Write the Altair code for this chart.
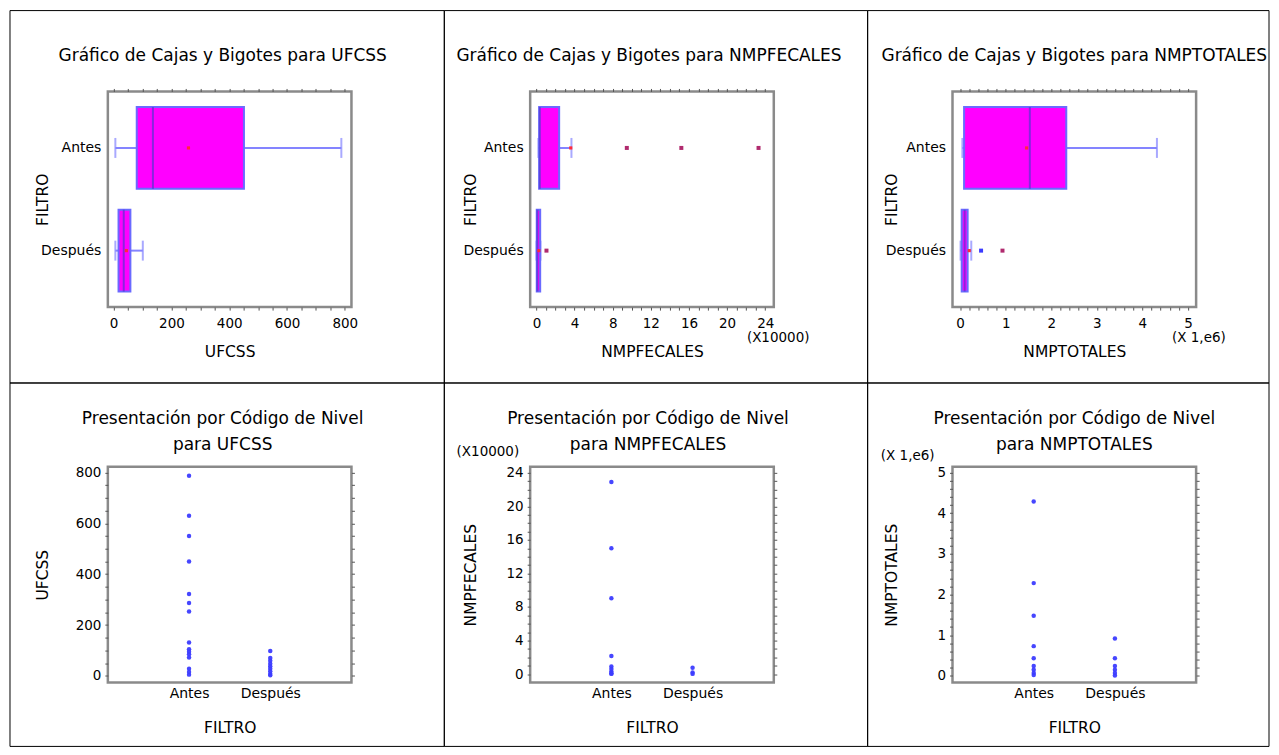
import altair as alt
import pandas as pd

FONT = "DejaVu Sans"
filtro = ["Antes", "Después"]

# ---------------- Top row: box-and-whisker summaries ----------------
ufcss_low = [6, 6]
ufcss_q1 = [80, 17]
ufcss_med = [136, 35]
ufcss_q3 = [451, 58]
ufcss_high = [788, 101]
ufcss_mean = [259, 44]

fec_low = [2000, 0]
fec_q1 = [2800, 300]
fec_med = [3500, 1000]
fec_q3 = [23800, 3900]
fec_high = [36700, 4200]
fec_mean = [36000, 2500]
fec_out_filtro = ["Antes", "Antes", "Antes", "Después"]
fec_out_value = [94800, 152000, 233000, 10500]
fec_out_kind = ["far", "far", "far", "far"]

tot_low = [50000, 10000]
tot_q1 = [87000, 35000]
tot_med = [1530000, 100000]
tot_q3 = [2330000, 165000]
tot_high = [4320000, 245000]
tot_mean = [1460000, 200000]
tot_out_filtro = ["Después", "Después"]
tot_out_value = [460000, 930000]
tot_out_kind = ["near", "far"]

# ---------------- Bottom row: individual observations ----------------
ufcss_antes = [787, 630, 550, 450, 322, 287, 253, 131, 105, 95, 85, 72, 28, 15, 5]
ufcss_despues = [98, 70, 60, 48, 38, 28, 18, 8, 3]
fec_antes = [229000, 150000, 90500, 21500, 9000, 6000, 3000, 1000, 300]
fec_despues = [7500, 2000, 300]
tot_antes = [4290000, 2280000, 1480000, 730000, 430000, 240000, 150000, 70000, 20000]
tot_despues = [920000, 430000, 240000, 150000, 70000, 10000]

# axis ticks
ufcss_ticks = list(range(0, 801, 50))
fec_ticks = list(range(0, 240001, 10000))
tot_ticks = [i * 200000 for i in range(26)]
ufcss_lbl = "datum.value % 200 === 0 ? format(datum.value, 'd') : ''"
fec_lbl = "datum.value % 40000 === 0 ? format(datum.value / 10000, 'd') : ''"
tot_lbl = "datum.value % 1000000 === 0 ? format(datum.value / 1000000, 'd') : ''"

BOX_FILL = "#ff00ff"
BOX_EDGE = "#6a6aff"
MED = "#5534d0"
WHISK = "#8484ff"
MEAN = "#ff2a3a"
OUT_NEAR = "#3b3bff"
OUT_FAR = "#b02a6e"
PT = "#3c3cff"
TICKC = "#555555"

W, H = 244, 216


def stats_df(low, q1, med, q3, high, mean):
    return pd.DataFrame({"FILTRO": filtro, "low": low, "q1": q1, "med": med,
                         "q3": q3, "high": high, "mean": mean})


def obs_df(antes, despues):
    return pd.DataFrame({"FILTRO": ["Antes"] * len(antes) + ["Después"] * len(despues),
                         "value": antes + despues})


def border(x0, x1, y0, y1):
    return alt.Chart(alt.Data(values=[{"b": 1}])).mark_rect(
        fillOpacity=0, stroke="black", strokeWidth=1
    ).encode(x=alt.value(x0), x2=alt.value(x1), y=alt.value(y0), y2=alt.value(y1))


def box_panel(title, var, stats, outl, domain, ticks, lbl, note, note_x, note_dx,
              title_x, title_dx, brd):
    xs = alt.Scale(domain=domain, nice=False, zero=False)
    yenc = alt.Y("FILTRO:N", sort=filtro,
                 scale=alt.Scale(paddingInner=0, paddingOuter=0.05),
                 axis=alt.Axis(title="FILTRO", ticks=False, domain=False, labelPadding=7,
                               titleX=title_x, labelFontSize=14))
    base = alt.Chart(stats)
    whisk = base.mark_rule(color=WHISK, strokeWidth=2).encode(
        x=alt.X("low:Q", scale=xs,
                axis=alt.Axis(orient="bottom", title=var, values=ticks, labelExpr=lbl,
                              tickSize=3, labelPadding=6, titlePadding=15, domain=False)),
        x2="high:Q", y=yenc)
    cap_lo = base.mark_tick(color=WHISK, size=20, thickness=2).encode(
        x=alt.X("low:Q", scale=xs, axis=None), y=yenc)
    cap_hi = base.mark_tick(color=WHISK, size=20, thickness=2).encode(
        x=alt.X("high:Q", scale=xs, axis=None), y=yenc)
    box = base.mark_bar(size=82, fill=BOX_FILL, stroke=BOX_EDGE, strokeWidth=2).encode(
        x=alt.X("q1:Q", scale=xs,
                axis=alt.Axis(orient="top", labels=False, domain=False, title=None,
                              values=ticks, tickSize=3)),
        x2="q3:Q", y=yenc)
    med = base.mark_tick(color=MED, size=82, thickness=2).encode(
        x=alt.X("med:Q", scale=xs, axis=None), y=yenc)
    mean = base.mark_square(color=MEAN, size=10, opacity=1).encode(
        x=alt.X("mean:Q", scale=xs, axis=None), y=yenc)
    layers = [brd, whisk, cap_lo, cap_hi, box, med, mean]
    if outl is not None:
        layers.append(alt.Chart(outl).mark_square(size=16, opacity=1).encode(
            x=alt.X("value:Q", scale=xs, axis=None), y=yenc,
            color=alt.Color("kind:N", scale=alt.Scale(domain=["near", "far"],
                                                      range=[OUT_NEAR, OUT_FAR]), legend=None)))
    if note:
        layers.append(alt.Chart(alt.Data(values=[{"t": note}])).mark_text(
            font=FONT, fontSize=13.5, color="black", baseline="middle", dx=note_dx, dy=31
        ).encode(x=alt.XDatum(note_x, scale=xs, axis=None), y=alt.value(H), text="t:N"))
    return alt.layer(*layers, title=alt.TitleParams(title, offset=-55, dx=title_dx)).resolve_axis(
        x="independent").properties(width=W, height=H)


def dot_panel(var, df, domain, ticks, lbl, note, note_dx, note_dy, title_x, title_dx, brd):
    ys = alt.Scale(domain=domain, nice=False, zero=False)
    xenc = alt.X("FILTRO:N", sort=filtro, scale=alt.Scale(padding=1),
                 axis=alt.Axis(title="FILTRO", ticks=False, domain=False, labelAngle=0,
                               labelPadding=4, titlePadding=20, labelFontSize=14))
    pts = alt.Chart(df).mark_circle(size=20, color=PT, opacity=0.95).encode(
        x=xenc,
        y=alt.Y("value:Q", scale=ys,
                axis=alt.Axis(orient="left", title=var, values=ticks, labelExpr=lbl,
                              tickSize=3, labelPadding=4, titleX=title_x, domain=False)))
    right = alt.Chart(df).mark_circle(size=20, opacity=0).encode(
        x=xenc,
        y=alt.Y("value:Q", scale=ys,
                axis=alt.Axis(orient="right", labels=False, title=None, domain=False,
                              values=ticks, tickSize=3)))
    layers = [brd, pts, right]
    if note:
        layers.append(alt.Chart(alt.Data(values=[{"t": note}])).mark_text(
            font=FONT, fontSize=13.5, color="black", align="right", baseline="middle",
            dx=note_dx, dy=note_dy
        ).encode(x=alt.value(0), y=alt.value(0), text="t:N"))
    title = ["Presentación por Código de Nivel", "para " + var]
    return alt.layer(*layers, title=alt.TitleParams(title, offset=-72, lineHeight=26,
                                                    dx=title_dx)).resolve_axis(
        y="independent").properties(width=W, height=H)


p1 = box_panel("Gráfico de Cajas y Bigotes para UFCSS", "UFCSS",
               stats_df(ufcss_low, ufcss_q1, ufcss_med, ufcss_q3, ufcss_high, ufcss_mean), None,
               [-20, 823], ufcss_ticks, ufcss_lbl, None, 0, 0, -57, -7,
               border(-98, 337, -81, 292))
fec_out = pd.DataFrame({"FILTRO": fec_out_filtro, "value": fec_out_value, "kind": fec_out_kind})
p2 = box_panel("Gráfico de Cajas y Bigotes para NMPFECALES", "NMPFECALES",
               stats_df(fec_low, fec_q1, fec_med, fec_q3, fec_high, fec_mean), fec_out,
               [-6600, 249000], fec_ticks, fec_lbl, "(X10000)", 240000, 13, -52, -3,
               border(-86, 338, -81, 292))
tot_out = pd.DataFrame({"FILTRO": tot_out_filtro, "value": tot_out_value, "kind": tot_out_kind})
p3 = box_panel("Gráfico de Cajas y Bigotes para NMPTOTALES", "NMPTOTALES",
               stats_df(tot_low, tot_q1, tot_med, tot_q3, tot_high, tot_mean), tot_out,
               [-167000, 5180000], tot_ticks, tot_lbl, "(X 1,e6)", 5000000, 11, -53, 0,
               border(-85, 317, -81, 292))

p4 = dot_panel("UFCSS", obs_df(ufcss_antes, ufcss_despues), [-26, 822], ufcss_ticks, ufcss_lbl,
               None, 0, 0, -57, -7, border(-98, 337, -84, 280))
p5 = dot_panel("NMPFECALES", obs_df(fec_antes, fec_despues), [-10000, 247000], fec_ticks, fec_lbl,
               "(X10000)", -11, -15, -52, -4, border(-86, 338, -84, 280))
p6 = dot_panel("NMPTOTALES", obs_df(tot_antes, tot_despues), [-165000, 5140000], tot_ticks, tot_lbl,
               "(X 1,e6)", -18, -11, -53, 0, border(-85, 317, -84, 280))

chart = alt.concat(p1, p2, p3, p4, p5, p6, columns=3,
                   spacing={"row": 160, "column": 179}, bounds="flush").properties(
    padding=0
).configure_view(
    stroke="#8a8a8a", strokeWidth=2.5
).configure_axis(
    labelFont=FONT, titleFont=FONT, labelFontSize=13.5, titleFontSize=15.5,
    labelColor="black", titleColor="black", titleFontWeight="normal", grid=False,
    tickColor=TICKC
).configure_title(
    font=FONT, fontSize=17, fontWeight="normal", color="black", anchor="middle", frame="group"
)

chart.save("out.html", embed_options={"renderer": "svg", "actions": False})
